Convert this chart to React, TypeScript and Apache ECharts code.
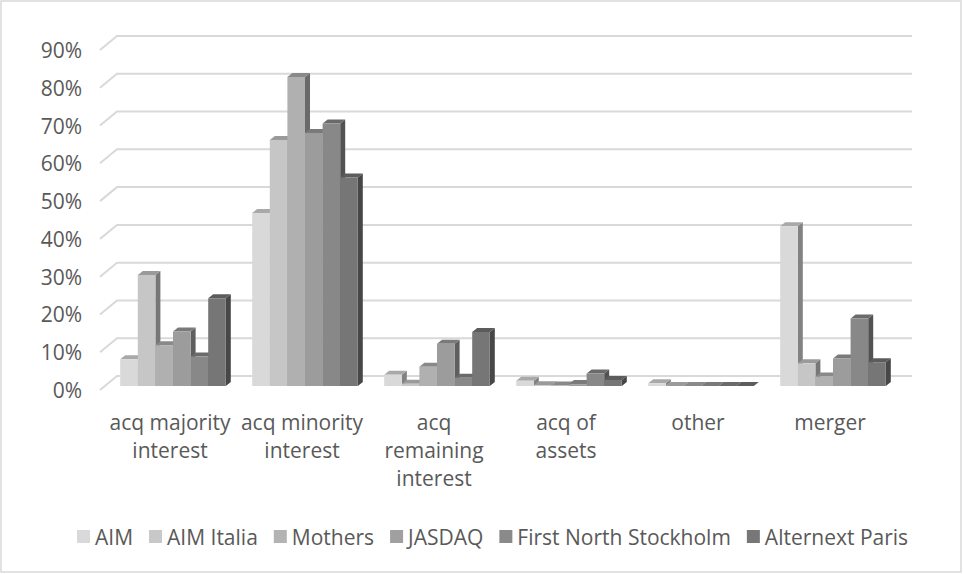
import React, { useEffect, useRef } from 'react';
import * as echarts from 'echarts';

const categories = [
  'acq majority\ninterest',
  'acq minority\ninterest',
  'acq\nremaining\ninterest',
  'acq of\nassets',
  'other',
  'merger',
];
const seriesNames = ['AIM', 'AIM Italia', 'Mothers', 'JASDAQ', 'First North Stockholm', 'Alternext Paris'];
const aim = [7.1, 45.8, 3.0, 1.4, 0.7, 42.3];
const aimItalia = [29.4, 65.1, 0.6, 0.2, 0, 6.0];
const mothers = [10.8, 81.8, 5.1, 0.1, 0, 2.5];
const jasdaq = [14.4, 67.0, 11.2, 0.5, 0, 7.3];
const firstNorth = [7.8, 69.5, 2.2, 3.3, 0, 17.9];
const alternext = [23.2, 55.2, 14.3, 1.6, 0, 6.3];
const seriesValues = [aim, aimItalia, mothers, jasdaq, firstNorth, alternext];
const yTicks = [0, 10, 20, 30, 40, 50, 60, 70, 80, 90];

const frontColors = ['#d9d9d9', '#c6c6c6', '#b0b0b0', '#9c9c9c', '#888888', '#767676'];
const legendColors = ['#d9d9d9', '#c8c8c8', '#b3b3b3', '#a0a0a0', '#8a8a8a', '#777777'];

const TEXT = '#595959';
const FONT = 'Open Sans';
const WALL_DX = 17;
const WALL_DY = 14;
const BAR_SHIFT_X = 3;
const BAR_SHIFT_Y = 4;
const BAR_DX = 5;
const BAR_DY = 4;

function shade(hex: string, f: number): string {
  const n = parseInt(hex.slice(1), 16);
  const r = Math.round(((n >> 16) & 255) * f);
  const g = Math.round(((n >> 8) & 255) * f);
  const b = Math.round((n & 255) * f);
  return `rgb(${r},${g},${b})`;
}

export default function App() {
  const ref = useRef<HTMLDivElement>(null);
  useEffect(() => {
    document.body.style.margin = '0';
    if (!ref.current) return;
    const chart = echarts.init(ref.current, undefined, { renderer: 'svg' });

    const barSeries = seriesNames.map((name, si) => ({
      name,
      type: 'custom',
      z: 3,
      itemStyle: { color: legendColors[si] },
      data: seriesValues[si].map((v, ci) => [ci, v]),
      renderItem: (params: any, api: any) => {
        const cat = api.value(0);
        const v = api.value(1);
        const top = api.coord([cat, v]);
        const base = api.coord([cat, 0]);
        const band = api.size([1, 0])[0];
        const bw = (band * 0.8) / 6;
        const x0 = base[0] - band * 0.4 + si * bw + BAR_SHIFT_X;
        const x1 = x0 + bw;
        const yb = base[1] - BAR_SHIFT_Y;
        const yt = top[1] - BAR_SHIFT_Y;
        const front = frontColors[si];
        return {
          type: 'group',
          children: [
            {
              type: 'polygon',
              shape: { points: [[x1, yt], [x1 + BAR_DX, yt - BAR_DY], [x1 + BAR_DX, yb - BAR_DY], [x1, yb]] },
              style: { fill: shade(front, 0.6) },
            },
            {
              type: 'polygon',
              shape: { points: [[x0, yt], [x1, yt], [x1 + BAR_DX, yt - BAR_DY], [x0 + BAR_DX, yt - BAR_DY]] },
              style: { fill: shade(front, 0.78) },
            },
            {
              type: 'rect',
              shape: { x: x0, y: yt, width: bw, height: Math.max(yb - yt, 0) },
              style: { fill: front },
            },
          ],
        };
      },
    }));

    const gridSeries = {
      name: 'grid',
      type: 'custom',
      z: 1,
      silent: true,
      data: yTicks.map((t) => [0, t]),
      renderItem: (params: any, api: any) => {
        const cs = params.coordSys;
        const p = api.coord([0, api.value(1)]);
        const y = p[1];
        return {
          type: 'polyline',
          shape: {
            points: [
              [cs.x - 4, y],
              [cs.x - 4 + WALL_DX, y - WALL_DY],
              [cs.x + cs.width + 16, y - WALL_DY],
            ],
          },
          style: { stroke: '#d9d9d9', lineWidth: 2, fill: 'none' },
        };
      },
    };

    chart.setOption({
      animation: false,
      backgroundColor: '#ffffff',
      textStyle: { fontFamily: FONT },
      graphic: [
        {
          type: 'rect',
          shape: { x: 1, y: 1, width: 960, height: 571 },
          style: { fill: 'none', stroke: '#d9d9d9', lineWidth: 1.5 },
          silent: true,
        },
      ],
      grid: { left: 104, top: 50, width: 792, height: 340 },
      legend: {
        data: seriesNames,
        icon: 'rect',
        itemWidth: 13,
        itemHeight: 13,
        itemGap: 16,
        top: 521,
        left: 72,
        textStyle: { color: TEXT, fontSize: 21, fontFamily: FONT },
      },
      xAxis: {
        type: 'category',
        data: categories,
        axisLine: { show: false },
        axisTick: { show: false },
        splitLine: { show: false },
        axisLabel: {
          color: TEXT,
          fontSize: 21,
          fontFamily: FONT,
          lineHeight: 28,
          margin: 18,
          interval: 0,
        },
      },
      yAxis: {
        type: 'value',
        min: 0,
        max: 90,
        interval: 10,
        axisLine: { show: false },
        axisTick: { show: false },
        splitLine: { show: false },
        axisLabel: {
          formatter: '{value}%',
          color: TEXT,
          fontSize: 21,
          fontFamily: FONT,
          margin: 22,
        },
      },
      series: [gridSeries, ...barSeries],
    });
    return () => chart.dispose();
  }, []);
  return <div ref={ref} style={{ width: 963, height: 574 }} />;
}
